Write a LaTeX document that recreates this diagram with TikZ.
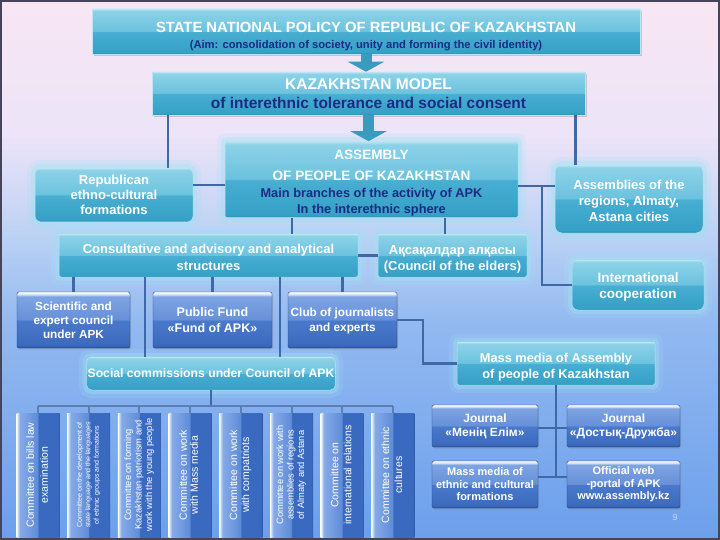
\documentclass[tikz,border=0pt]{standalone}
\usepackage{fontspec}
\setmainfont{Liberation Sans}
\usetikzlibrary{arrows.meta,shadows,calc}

\definecolor{bgA}{HTML}{F8E6F4}
\definecolor{bgB}{HTML}{ECE4F8}
\definecolor{bgC}{HTML}{B8D0F4}
\definecolor{bgD}{HTML}{92B9F0}
\definecolor{bgE}{HTML}{6C9FEC}
\definecolor{framec}{HTML}{45445A}
\definecolor{navy}{HTML}{1C2A84}
\definecolor{tA}{HTML}{2B90B8}
\definecolor{tB}{HTML}{36A0C6}
\definecolor{tC}{HTML}{48AED2}
\definecolor{tD}{HTML}{6CC2DE}
\definecolor{tE}{HTML}{8CD2E8}
\definecolor{glowc}{HTML}{9FE2F4}
\definecolor{linec}{HTML}{3F68A6}
\definecolor{arrowc}{HTML}{3A9BC0}
\definecolor{bA}{HTML}{2C56A2}
\definecolor{bB}{HTML}{3C6ABE}
\definecolor{bC}{HTML}{4A78CA}
\definecolor{bD}{HTML}{6690D8}
\definecolor{bE}{HTML}{7EA4E2}
\definecolor{cA}{HTML}{2E5AA6}
\definecolor{cB}{HTML}{3A69C0}
\definecolor{cC}{HTML}{5F8CD8}
\definecolor{cD}{HTML}{86AAE8}
\definecolor{cE}{HTML}{C8DAF6}

\pgfdeclareverticalshading{bgsh}{100bp}{color(0bp)=(bgE); color(25bp)=(bgE); color(45bp)=(bgD); color(52.5bp)=(bgC); color(62.5bp)=(bgB); color(75bp)=(bgA); color(100bp)=(bgA)}
\pgfdeclareverticalshading{tealsh}{100bp}{color(0bp)=(tA); color(25bp)=(tA); color(27bp)=(tB); color(49.5bp)=(tC); color(50.5bp)=(tD); color(73bp)=(tE); color(75bp)=(white!40!tE); color(100bp)=(white!40!tE)}
\pgfdeclareverticalshading{bluesh}{100bp}{color(0bp)=(bA); color(25bp)=(bA); color(28bp)=(bB); color(49.5bp)=(bC); color(50.5bp)=(bD); color(71bp)=(bE); color(73bp)=(white!70!bE); color(75bp)=(white); color(100bp)=(white)}
\pgfdeclarehorizontalshading{cmtsh}{100bp}{color(0bp)=(white); color(25bp)=(white); color(26.5bp)=(cE); color(29bp)=(cD); color(49.5bp)=(cC); color(50.5bp)=(cB); color(73bp)=(cB); color(75bp)=(cA); color(100bp)=(cA)}

\newcommand{\setfs}[2]{\fontsize{#1}{#2}\selectfont}
\newcommand{\tstrut}[1]{\rule{0pt}{#1pt}}
\newcommand{\cmtx}[3]{\rotatebox{90}{\fontsize{#1}{#2}\selectfont\begin{tabular}{@{}c@{}}#3\end{tabular}}}

\tikzset{
  sz/.style 2 args={minimum width=#1pt, minimum height=#2pt},
  tealbox/.style={shade, shading=tealsh, draw=white!55!tD, line width=0.5pt, text=white, align=center, inner sep=1pt},
  glow/.style={preaction={draw=glowc, line width=16pt, opacity=0.18}, preaction={draw=glowc, line width=8pt, opacity=0.35}},
  shadowed/.style={drop shadow={opacity=0.35, shadow xshift=1.5pt, shadow yshift=-2pt}},
  bluebox/.style={shade, shading=bluesh, draw=bA!80!black, line width=0.4pt, rounded corners=1.5pt, text=white, align=center, inner sep=1pt, drop shadow={opacity=0.3, shadow xshift=1pt, shadow yshift=-1.5pt}},
  cmtbox/.style={shade, shading=cmtsh, text=white, inner sep=0pt, minimum width=43pt, minimum height=124pt},
  conn/.style={draw=linec, line width=2.5pt},
  conntwo/.style={draw=linec!85!white, line width=2pt},
  bigarrow/.style={draw=arrowc, line width=11pt, -{Triangle[width=36pt,length=10pt]}}
}

\begin{document}
\begin{tikzpicture}[x=1pt,y=-1pt]
\useasboundingbox (0,0) rectangle (720,540);
\shade[shading=bgsh] (0,0) rectangle (720,540);
\draw[framec, line width=2pt] (1,1) rectangle (719,539);

% top boxes
\node[tealbox, shadowed, sz={548}{45}, font={\bfseries\setfs{14.8}{18}}] (title) at (366,31.5)
  {\tstrut{20}STATE NATIONAL POLICY OF REPUBLIC OF KAZAKHSTAN\\[-2pt] {\color{navy}\setfs{11.2}{13}(Aim: consolidation of society, unity and forming the civil identity)}};
\node[tealbox, shadowed, sz={433}{43}, font={\bfseries\setfs{15.5}{19}}] (model) at (368.5,93.5)
  {KAZAKHSTAN MODEL\\ {\color{navy}of interethnic tolerance and social consent}};

\node[tealbox, glow, rounded corners=2pt, sz={293}{73}, font={\bfseries\setfs{13.6}{17}}] (asm) at (371.5,179.5)
  {\tstrut{17.5}ASSEMBLY\\[4pt] OF PEOPLE OF KAZAKHSTAN\\ {\color{navy}\setfs{12.8}{16}Main branches of the activity of APK}\\[-1pt] {\color{navy}\setfs{12.8}{16}In the interethnic sphere}};

\node[tealbox, glow, rounded corners=6pt, sz={158}{54}, font={\bfseries\setfs{13}{15}}] (rep) at (114,195)
  {Republican\\ethno-cultural\\formations};
\node[tealbox, glow, rounded corners=7pt, sz={148}{68}, font={\bfseries\setfs{13}{16}}] (reg) at (629,199)
  {\tstrut{13.3}Assemblies of the\\regions, Almaty,\\Astana cities};
\node[tealbox, glow, rounded corners=6pt, sz={132}{50}, font={\bfseries\setfs{13.5}{16}}] (intl) at (638,285)
  {\tstrut{13.7}International\\cooperation};

\node[tealbox, glow, rounded corners=2pt, sz={299}{43}, font={\bfseries\setfs{13}{17}}] (cons) at (208.5,255.5)
  {\tstrut{13.5}Consultative and advisory and analytical\\structures};
\node[tealbox, glow, rounded corners=2pt, sz={149}{43}, font={\bfseries\setfs{13}{16}}] (aks) at (452.5,255.5)
  {\tstrut{17}Ақсақалдар алқасы\\(Council of the elders)};

\node[bluebox, sz={113}{56}, font={\bfseries\setfs{11.8}{14}}] (sci) at (73.5,320)
  {Scientific and\\expert council\\under APK};
\node[bluebox, sz={119}{56}, font={\bfseries\setfs{12.5}{16}}] (fund) at (212.5,320)
  {Public Fund\\«Fund of APK»};
\node[bluebox, sz={109}{56}, font={\bfseries\setfs{11.8}{15}}] (club) at (342.5,320)
  {\tstrut{11}Club of journalists\\and experts};

\node[tealbox, glow, rounded corners=5pt, sz={238}{33}, font={\bfseries\setfs{12.2}{15}}] (social) at (211,373.5)
  {Social commissions under Council of APK};

\node[tealbox, glow, rounded corners=2pt, sz={198}{43}, font={\bfseries\setfs{12.8}{16}}] (mm) at (556,363.5)
  {\tstrut{17.5}Mass media of Assembly\\of people of Kazakhstan};

\node[bluebox, sz={106}{42}, font={\bfseries\setfs{12}{14}}] (j1) at (485,426) {Journal\\«Менің Елім»};
\node[bluebox, sz={113}{42}, font={\bfseries\setfs{12}{14}}] (j2) at (623.5,426) {Journal\\«Достық-Дружба»};
\node[bluebox, sz={106}{47}, font={\bfseries\setfs{11}{12.5}}] (m3) at (485,484.5) {Mass media of\\ethnic and cultural\\formations};
\node[bluebox, sz={113}{47}, font={\bfseries\setfs{11}{12.5}}] (m4) at (623.5,484.5) {Official web\\-portal of APK\\www.assembly.kz};

% committees
\node[cmtbox] (c1) at (38,475) {\cmtx{10.5}{14}{Committee on  bills law\\examination}};
\node[cmtbox] (c2) at (88.7,475) {\cmtx{7}{8.5}{Committee on the development of\\state language and the languages\\of ethnic groups and formations}};
\node[cmtbox] (c3) at (139.4,475) {\cmtx{9.3}{10.5}{Committee on forming\\Kazakhstan patriotism and\\work with the young people}};
\node[cmtbox] (c4) at (190.1,475) {\cmtx{10.5}{11}{Committee on work\\with Mass media}};
\node[cmtbox] (c5) at (240.8,475) {\cmtx{10.5}{12}{Committee on work\\with compatriots}};
\node[cmtbox] (c6) at (291.5,475) {\cmtx{9.3}{10.5}{Committee on work with\\assemblies of regions\\of Almaty and Astana}};
\node[cmtbox] (c7) at (342.2,475) {\cmtx{10.5}{13}{Committee on\\international relations}};
\node[cmtbox] (c8) at (392.9,475) {\cmtx{10.5}{13}{Committee on ethnic\\cultures}};

\node[text=white!60!bgE, font=\setfs{9}{9}] (pg) at (675,517) {9};

% block arrows
\draw[bigarrow] (title.south) -- (title.south |- model.north);
\draw[bigarrow] (model.south) -- (model.south |- asm.north);

% connectors
\draw[conn] ([xshift=16pt]model.south west) -- ([xshift=16pt]model.south west |- rep.north);
\draw[conn] ([xshift=-10pt]model.south east) -- ([xshift=-10pt]model.south east |- reg.north);
\draw[conn] (rep.east |- 0,185) -- (asm.west |- 0,185);
\draw[conn] (asm.east |- 0,186) -- (reg.west |- 0,186);
\coordinate (br) at (542,186);
\draw[conn] (br) |- (intl.west);
\draw[conn] (asm.south -| 292,0) -- (cons.north -| 292,0);
\draw[conn] (asm.south -| 445,0) -- (aks.north -| 445,0);
\draw[conn] (cons.east) -- (aks.west);
\foreach \n in {sci,fund,club} \draw[conn] (\n.north |- cons.south) -- (\n.north);
\foreach \x in {145,280} \draw[conn] (cons.south -| \x,0) -- (social.north -| \x,0);
\draw[conn] (club.east) -- ++(26,0) |- (mm.west);
\draw[conn] (social.south) -- (social.south |- 0,406);
\draw[conntwo] (c1.north |- 0,406) -- (c8.north |- 0,406);
\foreach \c in {c1,c2,c3,c4,c5,c6,c7,c8} \draw[conntwo] (\c.north |- 0,406) -- (\c.north);
\draw[conn] (mm.south) -- (mm.south |- 0,477);
\draw[conn] (j1.east |- 0,428) -- (j2.west |- 0,428);
\draw[conn] (m3.east |- 0,477) -- (m4.west |- 0,477);
\end{tikzpicture}
\end{document}
